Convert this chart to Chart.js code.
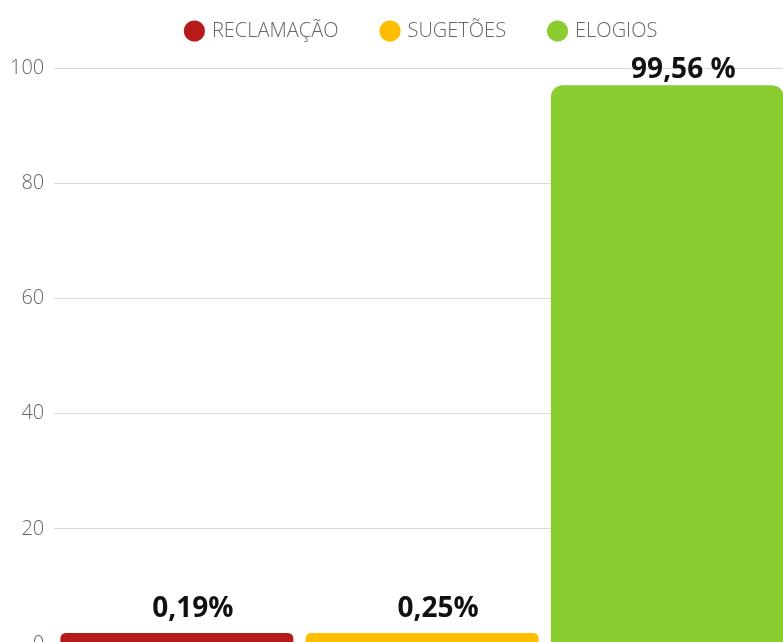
<!DOCTYPE html>
<html>
<head>
<meta charset="utf-8">
<script src="https://cdn.jsdelivr.net/npm/chart.js@4/dist/chart.umd.min.js"></script>
<style>
  html, body { margin: 0; padding: 0; overflow: hidden; background: #fff; }
  #wrap { position: absolute; left: 0; top: 0; width: 800px; height: 666px; }
</style>
</head>
<body>
<div id="wrap"><canvas id="grafico"></canvas></div>
<script>
// dados do gráfico
const categorias = ['RECLAMAÇÃO', 'SUGETÕES', 'ELOGIOS'];
const valoresBarras = [1.9, 1.9, 97.0];
const rotulosBarras = ['0,19%', '0,25%', '99,56 %'];
const coresBarras = ['#B71A1A', '#FFBD00', '#89CD30'];
const ticksY = [0, 20, 40, 60, 80, 100];

// um dataset por categoria para a legenda mostrar os três itens
function montarDatasets() {
    return categorias.map(function (nome, i) {
        const data = categorias.map(function (_, j) { return j === i ? valoresBarras[i] : null; });
        return {
            label: nome,
            data: data,
            backgroundColor: coresBarras[i],
            borderColor: coresBarras[i],
            borderRadius: { topLeft: 12, topRight: 12 },
            borderSkipped: false,
            grouped: false,
            barPercentage: 0.95,
            categoryPercentage: 1
        };
    });
}

// altura fixa da legenda (espaço até a linha do 100)
const alturaLegenda = {
    id: 'alturaLegenda',
    beforeInit(chart) {
        const fitOriginal = chart.legend.fit;
        chart.legend.fit = function () {
            fitOriginal.call(this);
            this.height = 91;
        };
    }
};

// escreve os percentuais acima das barras
const rotulosPlugin = {
    id: 'rotulos',
    afterDatasetsDraw(chart) {
        const ctx = chart.ctx;
        const area = chart.chartArea;
        ctx.save();
        ctx.font = 'bold 28px "Open Sans"';
        ctx.fillStyle = '#111';
        ctx.textAlign = 'center';
        ctx.textBaseline = 'alphabetic';
        chart.data.datasets.forEach(function (ds, i) {
            const bar = chart.getDatasetMeta(i).data[i];
            if (!bar) return;
            const y = Math.max(bar.y - 16, area.top + 10);
            ctx.fillText(rotulosBarras[i], bar.x + 16, y);
        });
        ctx.restore();
    }
};

new Chart(document.getElementById('grafico'), {
    type: 'bar',
    data: { labels: categorias, datasets: montarDatasets() },
    plugins: [alturaLegenda, rotulosPlugin],
    options: {
        responsive: true,
        maintainAspectRatio: false,
        animation: false,
        layout: { padding: { left: 0, right: 10, top: -23, bottom: 0 } },
        plugins: {
            tooltip: { enabled: false },
            legend: {
                position: 'top',
                fullSize: false,
                labels: {
                    usePointStyle: true,
                    pointStyle: 'circle',
                    boxWidth: 15,
                    boxHeight: 15,
                    padding: 44,
                    color: '#666',
                    font: { family: '"Open Sans"', size: 20, weight: 300 }
                }
            }
        },
        scales: {
            x: { display: false },
            y: {
                min: 0,
                max: 100,
                afterBuildTicks(axis) { axis.ticks = ticksY.map(function (v) { return { value: v }; }); },
                border: { display: false },
                grid: { color: '#d9d9d9', drawTicks: false },
                ticks: {
                    padding: 10,
                    color: '#666',
                    font: { family: '"Open Sans"', size: 20, weight: 300 }
                }
            }
        }
    }
});
</script>
</body>
</html>
